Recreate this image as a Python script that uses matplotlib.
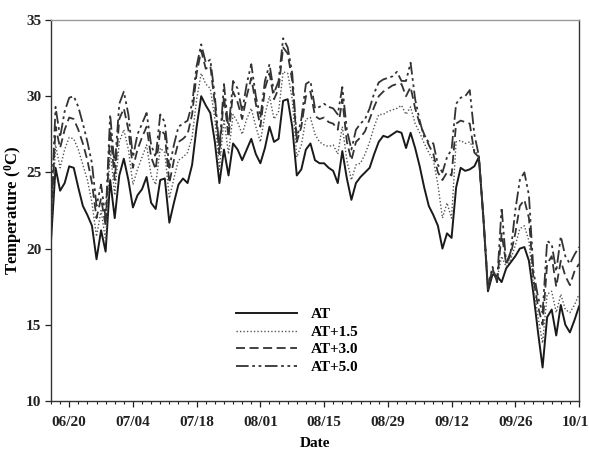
import numpy as np
import matplotlib
matplotlib.use("Agg")
import matplotlib.pyplot as plt
import matplotlib.dates as mdates

# ---- data (daily, starting 16 June) ----
start_date = "2012-06-16"
n_days = 117

at = [20.5, 25.3, 23.8, 24.3, 25.4, 25.3, 24.0, 22.8, 22.2, 21.5,
      19.3, 21.2, 19.8, 24.5, 22.0, 24.8, 25.9, 24.5, 22.7, 23.5,
      23.9, 24.7, 23.0, 22.6, 24.5, 24.6, 21.7, 23.0, 24.2, 24.6,
      24.3, 25.5, 28.0, 30.0, 29.4, 28.9, 27.0, 24.3, 26.5, 24.8,
      26.9, 26.5, 25.8, 26.5, 27.2, 26.2, 25.6, 26.6, 28.0, 27.0,
      27.2, 29.7, 29.8, 28.0, 24.8, 25.2, 26.5, 26.9, 25.8, 25.6,
      25.6, 25.3, 25.1, 24.3, 26.4, 24.6, 23.2, 24.3, 24.7, 25.0,
      25.3, 26.2, 27.0, 27.4, 27.3, 27.5, 27.7, 27.6, 26.6, 27.6,
      26.6, 25.4, 24.0, 22.8, 22.2, 21.5, 20.0, 21.0, 20.7, 24.0,
      25.3, 25.1, 25.2, 25.4, 26.0, 22.0, 17.2, 18.3, 18.2, 17.8,
      18.7, 19.1, 19.5, 20.0, 20.1, 19.2, 17.0, 14.5, 12.2, 15.5,
      16.0, 14.3, 16.3, 15.0, 14.5, 15.3, 16.2]

at_15 = [21.0, 26.8, 25.3, 26.5, 27.3, 27.2, 26.5, 25.5, 24.5, 23.0,
         20.8, 22.5, 20.5, 26.5, 23.5, 27.0, 27.8, 26.5, 24.2, 25.2,
         26.0, 26.8, 24.8, 24.2, 26.6, 26.3, 23.3, 24.6, 25.8, 26.0,
         26.3, 27.3, 29.8, 31.5, 30.8, 30.5, 28.5, 25.2, 28.5, 26.2,
         28.8, 28.3, 27.5, 28.5, 29.2, 28.0, 27.0, 28.8, 30.0, 28.5,
         29.0, 31.6, 31.5, 29.8, 26.0, 26.8, 28.5, 28.6, 27.5, 27.0,
         26.8, 26.7, 26.8, 26.2, 28.0, 25.8, 24.5, 25.5, 25.6, 26.2,
         27.0, 28.0, 28.8, 28.8, 29.0, 29.1, 29.2, 29.4, 28.8, 29.3,
         28.2, 27.6, 26.9, 26.3, 25.8, 24.2, 22.0, 23.0, 22.0, 27.0,
         27.1, 26.9, 27.0, 26.5, 26.1, 22.0, 17.3, 18.5, 18.0, 19.5,
         18.8, 19.3, 20.2, 21.3, 21.5, 20.5, 17.5, 15.5, 13.8, 17.0,
         17.2, 15.8, 17.0, 16.0, 15.8, 16.3, 17.0]

at_30 = [21.5, 28.0, 26.6, 27.8, 28.6, 28.5, 27.8, 26.9, 25.8, 24.3,
         22.0, 23.3, 21.5, 27.8, 24.5, 28.5, 29.2, 27.8, 25.3, 26.5,
         27.3, 28.0, 26.0, 25.2, 27.8, 27.5, 24.3, 25.8, 27.0, 27.2,
         27.5, 28.8, 31.5, 33.0, 31.8, 32.0, 29.5, 26.2, 30.0, 27.3,
         30.3, 29.6, 28.5, 30.0, 31.2, 29.5, 28.0, 30.5, 31.5, 29.8,
         30.5, 33.2, 32.8, 31.0, 27.0, 28.0, 30.0, 30.3, 28.7, 28.5,
         28.6, 28.3, 28.2, 27.8, 29.8, 27.0, 25.8, 27.0, 27.3, 27.7,
         28.5, 29.3, 30.0, 30.3, 30.5, 30.7, 30.8, 30.8, 30.0, 30.6,
         29.2, 28.2, 27.5, 26.8, 26.2, 25.0, 24.5, 25.0, 24.8, 28.2,
         28.4, 28.3, 28.2, 26.3, 26.0, 22.0, 17.4, 18.7, 17.8, 21.0,
         19.0, 19.6, 21.0, 22.8, 23.2, 22.0, 18.0, 16.2, 15.0, 19.0,
         19.5, 17.5, 19.2, 18.2, 17.6, 18.5, 19.0]

at_50 = [22.0, 29.3, 27.3, 29.0, 29.9, 30.0, 29.3, 28.2, 27.0, 25.6,
         22.8, 24.2, 22.0, 28.8, 25.3, 29.5, 30.3, 28.8, 26.0, 27.5,
         28.2, 28.9, 26.8, 26.0, 28.8, 28.3, 25.3, 26.8, 28.0, 28.2,
         28.4, 29.5, 32.0, 33.4, 32.2, 32.4, 30.0, 26.5, 30.8, 27.8,
         31.0, 30.5, 29.0, 30.8, 32.1, 30.0, 28.6, 31.0, 32.1, 30.2,
         31.0, 33.8, 33.2, 31.5, 27.2, 28.5, 30.8, 31.0, 29.2, 29.3,
         29.5, 29.3, 29.2, 28.8, 30.6, 27.8, 26.5, 27.8, 28.2, 28.5,
         29.2, 30.2, 30.9, 31.1, 31.2, 31.3, 31.6, 31.0, 31.0, 32.2,
         29.8, 28.4, 27.3, 27.0, 26.9, 25.5, 25.0, 26.0, 26.5, 29.5,
         29.9, 30.0, 30.4, 27.5, 26.1, 22.0, 17.5, 18.8, 17.8, 22.7,
         19.0, 19.8, 22.5, 24.5, 25.0, 23.5, 18.5, 16.8, 15.8, 20.5,
         20.3, 18.5, 20.8, 19.5, 19.0, 19.6, 20.1]

labels = ["AT", "AT+1.5", "AT+3.0", "AT+5.0"]
x_ticks = ["2012-06-20", "2012-07-04", "2012-07-18", "2012-08-01", "2012-08-15",
           "2012-08-29", "2012-09-12", "2012-09-26", "2012-10-10"]
y_ticks = [10, 15, 20, 25, 30, 35]

# ---- style ----
plt.rcParams['font.family'] = ['Liberation Serif', 'DejaVu Serif']
plt.rcParams['font.weight'] = 'bold'
plt.rcParams['mathtext.fontset'] = 'custom'
plt.rcParams['mathtext.rm'] = 'Liberation Serif:bold'
plt.rcParams['mathtext.it'] = 'Liberation Serif:bold'
plt.rcParams['mathtext.bf'] = 'Liberation Serif:bold'


def to_dt(s):
    return np.datetime64(s).astype('datetime64[ms]').astype(object)


dates = np.arange(np.datetime64(start_date), np.datetime64(start_date) + n_days,
                  dtype='datetime64[D]').astype('datetime64[ms]').astype(object)

fig = plt.figure(figsize=(5.89, 4.5), dpi=100)
ax = fig.add_axes([51/589, 49/450, 528/589, 381/450])

styles = [
    dict(color='#1a1a1a', lw=1.4, ls='-'),
    dict(color='#555555', lw=1.0, ls=(0, (1, 1.5))),
    dict(color='#333333', lw=1.3, ls=(0, (5, 2.5))),
    dict(color='#333333', lw=1.3, ls=(0, (7, 2, 1.5, 2, 1.5, 2))),
]
for series, lab, st in zip([at, at_15, at_30, at_50], labels, styles):
    ax.plot(dates, series, label=lab, **st)

ax.set_xlim(to_dt(start_date), to_dt("2012-10-10"))
ax.set_ylim(10, 35)
ax.set_yticks(y_ticks)
ax.set_xticks([to_dt(t) for t in x_ticks])
ax.xaxis.set_major_formatter(mdates.DateFormatter('%m/%d'))
ax.xaxis.set_minor_locator(mdates.DayLocator(interval=2))

ax.tick_params(axis='both', which='major', direction='out', length=4, width=0.9,
               labelsize=11, pad=3, colors='#222222')
ax.tick_params(axis='x', which='minor', direction='out', length=2.5, width=0.8, colors='#222222')
ax.tick_params(axis='x', which='major', pad=6.5)
for lbl in ax.get_xticklabels() + ax.get_yticklabels():
    lbl.set_fontweight('bold')
for s in ax.spines.values():
    s.set_linewidth(1.0)
    s.set_color('#333333')
ax.spines['top'].set_color('#999999')

ax.set_xlabel('Date', fontsize=11, fontweight='bold')
ax.xaxis.set_label_coords(0.5, -0.094)
ax.set_ylabel('Temperature ($^{0}$C)', fontsize=12, fontweight='bold')
ax.yaxis.set_label_coords(-0.052, 0.5)

leg = ax.legend(loc='lower left', bbox_to_anchor=(0.325, 0.035), frameon=False,
                fontsize=11, handlelength=4.0, labelspacing=0.25, handletextpad=0.9)
for t in leg.get_texts():
    t.set_fontweight('bold')

fig.savefig('out.png', dpi=100)
